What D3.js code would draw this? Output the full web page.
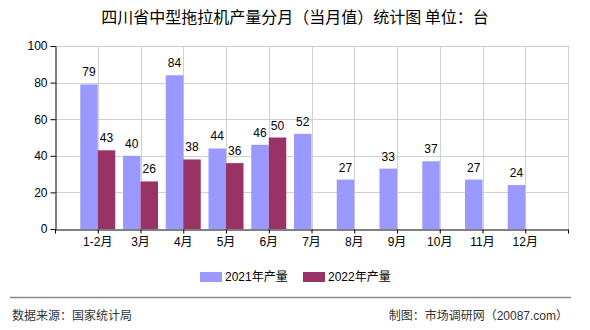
<!DOCTYPE html>
<html><head><meta charset="utf-8">
<script src="https://cdn.jsdelivr.net/npm/d3@7"></script>
<style>
html,body{margin:0;padding:0;background:#fff;}
svg{display:block;font-family:"Liberation Sans","Noto Sans CJK SC",sans-serif;}
</style></head>
<body><svg id="c" width="590" height="330"></svg>
<script>
const title = "四川省中型拖拉机产量分月（当月值）统计图 单位：台";
const categories = ["1-2月","3月","4月","5月","6月","7月","8月","9月","10月","11月","12月"];
const series2021 = [79,40,84,44,46,52,27,33,37,27,24];
const series2022 = [43,26,38,36,50,null,null,null,null,null,null];
const seriesNames = ["2021年产量","2022年产量"];
const colors = ["#9999FF","#993366"];
const yTicks = [0,20,40,60,80,100];
const source = "数据来源：国家统计局";
const credit = "制图：市场调研网（20087.com）";

const svg = d3.select("#c");
const L=55, R=568, T=46, B=229;
const x = d3.scaleLinear().domain([0, categories.length+1]).range([L,R]);
const y = d3.scaleLinear().domain([0,100]).range([B,T]);
const bw = 17.5;

svg.append("text").attr("x",295).attr("y",23).attr("text-anchor","middle")
  .attr("font-size",16).attr("font-family","'Noto Sans CJK SC',sans-serif").attr("fill","#000").text(title);

// grid
const g = svg.append("g");
g.selectAll(".hg").data(yTicks.filter(d=>d>0)).join("line")
  .attr("x1",L).attr("x2",R).attr("y1",d=>Math.round(y(d))+0.5).attr("y2",d=>Math.round(y(d))+0.5)
  .attr("stroke","#d0d0d0");
const vpos = d3.range(1, categories.length+2);
g.selectAll(".vg").data(vpos).join("line")
  .attr("x1",d=>Math.round(x(d))+0.5).attr("x2",d=>Math.round(x(d))+0.5).attr("y1",T).attr("y2",B)
  .attr("stroke","#d0d0d0");

// bars
const data = categories.map((c,i)=>({c,i,a:series2021[i],b:series2022[i]}));
svg.selectAll(".ba").data(data).join("rect")
  .attr("x",d=>x(d.i+1)-bw).attr("width",bw)
  .attr("y",d=>y(d.a)).attr("height",d=>B-y(d.a)).attr("fill",colors[0]);
svg.selectAll(".bb").data(data.filter(d=>d.b!=null)).join("rect")
  .attr("x",d=>x(d.i+1)).attr("width",bw)
  .attr("y",d=>y(d.b)).attr("height",d=>B-y(d.b)).attr("fill",colors[1]);

// value labels
svg.selectAll(".la").data(data).join("text")
  .attr("x",d=>x(d.i+1)-bw/2).attr("y",d=>y(d.a)-8).attr("text-anchor","middle")
  .attr("font-size",12).attr("fill","#000").text(d=>d.a);
svg.selectAll(".lb").data(data.filter(d=>d.b!=null)).join("text")
  .attr("x",d=>x(d.i+1)+bw/2).attr("y",d=>y(d.b)-8).attr("text-anchor","middle")
  .attr("font-size",12).attr("fill","#000").text(d=>d.b);

// axes
const ya = svg.append("g").attr("transform",`translate(${L+0.5},0)`)
  .call(d3.axisLeft(y).tickValues(yTicks).tickSize(5).tickSizeOuter(0));
ya.select(".domain").attr("stroke","#000");
ya.selectAll("text").attr("font-size",12).attr("fill","#000").attr("font-family","'Liberation Sans',sans-serif");

const xa = svg.append("g").attr("transform",`translate(0,${B+0.5})`)
  .call(d3.axisBottom(x).tickValues(d3.range(0,categories.length+2)).tickFormat(()=>"").tickSize(4).tickSizeOuter(0));
xa.select(".domain").attr("stroke","#000");
svg.selectAll(".xl").data(data).join("text")
  .attr("x",d=>x(d.i+1)).attr("y",B+17).attr("text-anchor","middle")
  .attr("font-size",12).attr("fill","#000").text(d=>d.c);

// legend
const lg = svg.append("g");
const lx = [200,303];
seriesNames.forEach((n,i)=>{
  lg.append("rect").attr("x",lx[i]).attr("y",272).attr("width",22).attr("height",10).attr("fill",colors[i]);
  lg.append("text").attr("x",lx[i]+25).attr("y",281).attr("font-size",12).attr("fill","#000").text(n);
});

// footer
svg.append("line").attr("x1",10).attr("x2",571).attr("y1",297.5).attr("y2",297.5).attr("stroke","#888").attr("stroke-width",1.5);
svg.append("text").attr("x",12).attr("y",320).attr("font-size",12).attr("fill","#333").text(source);
svg.append("text").attr("x",568).attr("y",320).attr("text-anchor","end").attr("font-size",12).attr("fill","#333").text(credit);
</script></body></html>
